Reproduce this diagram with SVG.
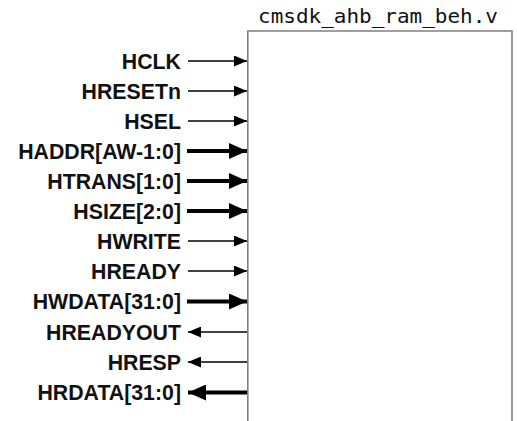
<svg xmlns="http://www.w3.org/2000/svg" width="517" height="421" viewBox="0 0 517 421">
<style>
.lbl{font-family:"Liberation Sans",Arial,sans-serif;font-weight:bold;font-size:21.3px;fill:#111;text-anchor:end}
.title{font-family:"DejaVu Sans Mono","Liberation Mono",monospace;font-size:19px;fill:#111;text-anchor:middle}
.thin{stroke:#000;stroke-width:1.3;fill:none;marker-end:url(#ah)}
.thick{stroke:#000;stroke-width:4.2;fill:none;marker-end:url(#ahb)}
.box{fill:#fff;stroke:#808080;stroke-width:1.6}
</style>
<defs>
<marker id="ah" markerUnits="userSpaceOnUse" viewBox="0 0 13 11" markerWidth="13" markerHeight="11" refX="13" refY="5.5" orient="auto">
<path d="M0,0 L13,5.5 L0,11 z" fill="#000"/>
</marker>
<marker id="ahb" markerUnits="userSpaceOnUse" viewBox="0 0 18 16" markerWidth="18" markerHeight="16" refX="18" refY="8" orient="auto">
<path d="M0,0 L18,8 L0,16 z" fill="#000"/>
</marker>
</defs>
<rect width="517" height="421" fill="#fff"/>
<g id="module">
<path class="box" d="M247.8,425 L247.8,31 L512,31 L512,425"/>
<text class="title" x="378" y="23" textLength="240" lengthAdjust="spacingAndGlyphs">cmsdk_ahb_ram_beh.v</text>
</g>
<g id="labels">
<text class="lbl" x="181" y="68.5">HCLK</text>
<text class="lbl" x="181" y="98.5">HRESETn</text>
<text class="lbl" x="181" y="128.5">HSEL</text>
<text class="lbl" x="181" y="158.5">HADDR[AW-1:0]</text>
<text class="lbl" x="181" y="188.5">HTRANS[1:0]</text>
<text class="lbl" x="181" y="218.5">HSIZE[2:0]</text>
<text class="lbl" x="181" y="248.5">HWRITE</text>
<text class="lbl" x="181" y="278.5">HREADY</text>
<text class="lbl" x="181" y="309">HWDATA[31:0]</text>
<text class="lbl" x="181" y="339.5">HREADYOUT</text>
<text class="lbl" x="181" y="369.5">HRESP</text>
<text class="lbl" x="181" y="400">HRDATA[31:0]</text>
</g>
<g id="connectors">
<line class="thin" x1="188" y1="61" x2="247" y2="61"/>
<line class="thin" x1="188" y1="91" x2="247" y2="91"/>
<line class="thin" x1="188" y1="121" x2="247" y2="121"/>
<line class="thick" x1="187" y1="151" x2="247" y2="151"/>
<line class="thick" x1="187" y1="181" x2="247" y2="181"/>
<line class="thick" x1="187" y1="211" x2="247" y2="211"/>
<line class="thin" x1="188" y1="241" x2="247" y2="241"/>
<line class="thin" x1="188" y1="271" x2="247" y2="271"/>
<line class="thick" x1="187" y1="301.5" x2="247" y2="301.5"/>
<line class="thin" x1="247" y1="332" x2="188" y2="332"/>
<line class="thin" x1="247" y1="362" x2="188" y2="362"/>
<line class="thick" x1="247" y1="392.5" x2="188" y2="392.5"/>
</g>
</svg>
